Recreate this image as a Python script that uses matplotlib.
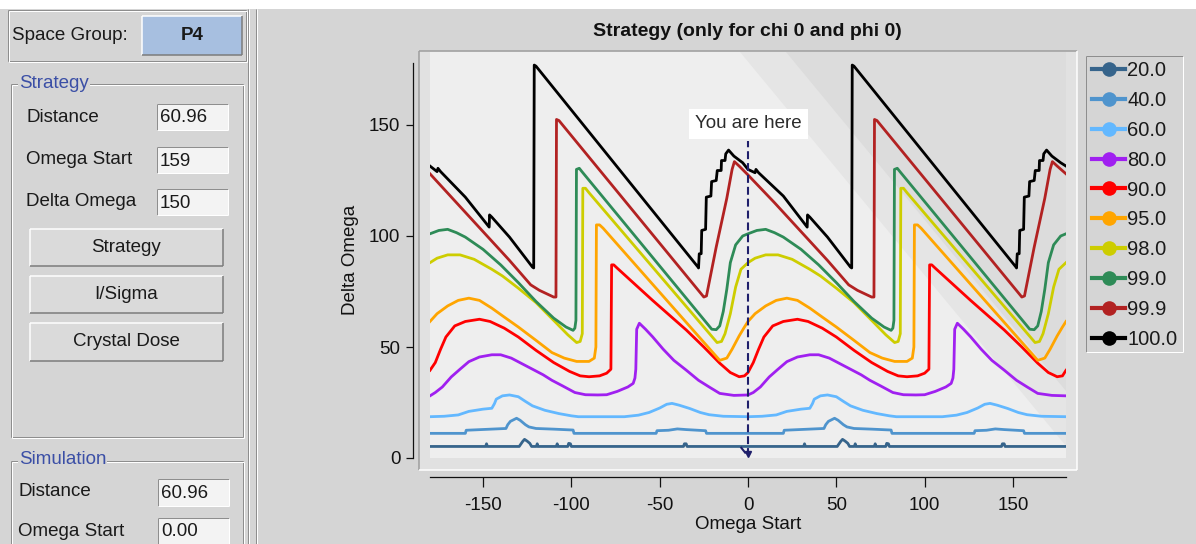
import matplotlib
matplotlib.use('Agg')
import matplotlib.pyplot as plt
from matplotlib.patches import Rectangle, Polygon
from matplotlib.lines import Line2D

plt.rcParams['font.family'] = ['Liberation Sans', 'DejaVu Sans']

# ---------------- data (Omega Start, Delta Omega) ----------------
levels = ['20.0', '40.0', '60.0', '80.0', '90.0', '95.0', '98.0', '99.0', '99.9', '100.0']
colors = ['#36648b', '#4f94cd', '#63b8ff', '#a020f0', '#ff0000', '#ffa500',
          '#cdcd00', '#2e8b57', '#b22222', '#000000']

pts_200 = [(-180, 5.2), (-148.5, 5.2), (-148, 6.4), (-147.5, 5.2), (-129.5, 5.2), (-127.5, 7.5),
           (-126.5, 8.4), (-125, 7.6), (-123.5, 6.6), (-122.5, 5.2), (-119.8, 5.2), (-119.3, 6.4),
           (-118.8, 5.2), (-108.5, 5.2), (-108, 6.4), (-107.5, 5.2), (-102, 5.2), (-101.5, 6.6),
           (-100.5, 6.4), (-100, 5.2), (-36.5, 5.2), (-36, 6.4), (-35, 6.4), (-34.5, 5.2), (0, 5.2),
           (31.5, 5.2), (32, 6.4), (32.5, 5.2), (50.5, 5.2), (52.5, 7.5), (53.5, 8.4), (55, 7.6),
           (56.5, 6.6), (57.5, 5.2), (60.2, 5.2), (60.7, 6.4), (61.2, 5.2), (71.5, 5.2), (72, 6.4),
           (72.5, 5.2), (78, 5.2), (78.5, 6.6), (79.5, 6.4), (80, 5.2), (143.5, 5.2), (144, 6.4),
           (145, 6.4), (145.5, 5.2), (180, 5.2)]

pts_400 = [(-180, 11.1), (-160, 11.1), (-159.5, 12.5), (-137, 13.3), (-136, 15), (-134.5, 16.5),
           (-131, 17.9), (-129, 17), (-126, 15), (-124, 14), (-120, 13.3), (-110, 13), (-99, 12.6),
           (-98.5, 11.1), (-52, 11.1), (-51.5, 12.3), (-45, 12.5), (-40, 13.1), (-35, 12.8),
           (-24, 12.3), (-23.5, 11.1), (0, 11.1),
           (20, 11.1), (20.5, 12.5), (43, 13.3), (44, 15), (45.5, 16.5), (49, 17.9), (51, 17),
           (54, 15), (56, 14), (60, 13.3), (70, 13), (81, 12.6), (81.5, 11.1), (128, 11.1),
           (128.5, 12.3), (135, 12.5), (140, 13.1), (145, 12.8), (156, 12.3), (156.5, 11.1), (180, 11.1)]

pts_600 = [(-180, 18.6), (-172, 18.8), (-164, 19.4), (-158, 21), (-150, 22), (-145, 22.4),
           (-143.5, 24.5), (-142.5, 26.5), (-139, 28), (-135, 28.4), (-130, 27.6), (-126, 25.5),
           (-122, 23.5), (-115, 21.5), (-107, 20), (-100, 19), (-96, 18.6), (-70, 18.6), (-62, 19.3),
           (-56, 20.5), (-50, 22.5), (-46, 24.2), (-43, 24.6), (-39, 23.8), (-33, 22.3), (-27, 20.5),
           (-22, 19.5), (-14, 18.8), (0, 18.6),
           (8, 18.8), (16, 19.4), (22, 21), (30, 22), (35, 22.4), (36.5, 24.5), (37.5, 26.5), (41, 28),
           (45, 28.4), (50, 27.6), (54, 25.5), (58, 23.5), (65, 21.5), (73, 20), (80, 19), (84, 18.6),
           (110, 18.6), (118, 19.3), (124, 20.5), (130, 22.5), (134, 24.2), (137, 24.6), (141, 23.8),
           (147, 22.3), (153, 20.5), (158, 19.5), (166, 18.8), (180, 18.6)]

pts_800 = [(-180, 28), (-177, 29.5), (-173, 32), (-168, 36.5), (-163, 40), (-158, 43.4), (-152, 45.5),
           (-145, 46.5), (-140, 46.5), (-134, 45), (-128, 42.5), (-122, 40), (-116, 37.5), (-111, 35),
           (-105, 32.5), (-98, 29.5), (-92, 28.5), (-85, 28.4), (-80, 28.5), (-74, 30), (-68, 32),
           (-65, 33.6), (-64, 36), (-63.5, 40), (-63, 58), (-61.5, 60.7), (-58, 58), (-54, 54.6),
           (-48, 49), (-42, 44), (-35, 39.6), (-28, 35), (-22, 32), (-16, 29.1), (-8, 28.2), (0, 28.4),
           (3, 29.5), (7, 32), (12, 36.5), (17, 40), (22, 43.4), (28, 45.5), (35, 46.5), (40, 46.5),
           (46, 45), (52, 42.5), (58, 40), (64, 37.5), (69, 35), (75, 32.5), (82, 29.5), (88, 28.5),
           (95, 28.4), (100, 28.5), (106, 30), (112, 32), (115, 33.6), (116, 36), (116.5, 40), (117, 58),
           (118.5, 60.7), (122, 58), (126, 54.6), (132, 49), (138, 44), (145, 39.6), (152, 35),
           (158, 32), (164, 29.1), (172, 28.2), (180, 28)]

pts_900 = [(-180, 39.5), (-177, 43), (-174, 49), (-171, 54.5), (-166, 59.5), (-160, 61.5), (-152, 62.5),
           (-146, 61.5), (-138, 58.5), (-130, 54.5), (-120, 48.5), (-110, 43), (-101, 39), (-95, 37),
           (-90, 36.6), (-84, 37), (-80, 38.2), (-77.6, 40), (-77.2, 87), (-76, 87), (-74, 85.5),
           (-54, 71), (-35, 57.7), (-25, 50), (-16, 42.7), (-10, 38.5), (-5, 36.6), (-2, 37), (0, 38.5),
           (3, 43), (6, 49), (9, 54.5), (14, 59.5), (20, 61.5), (28, 62.5), (34, 61.5), (42, 58.5),
           (50, 54.5), (60, 48.5), (70, 43), (79, 39), (85, 37), (90, 36.6), (96, 37), (100, 38.2),
           (102.4, 40), (102.8, 87), (104, 87), (106, 85.5), (126, 71), (145, 57.7), (155, 50),
           (164, 42.7), (170, 38.5), (175, 36.6), (178, 37), (180, 39.5)]

pts_950 = [(-180, 61.5), (-176, 65), (-170, 68.5), (-164, 71), (-158, 72), (-152, 71), (-145, 67.5),
           (-138, 63.5), (-130, 59), (-120, 53), (-111, 47.5), (-104, 45), (-97, 43.5), (-90, 43.5),
           (-87, 45), (-86.1, 50), (-85.8, 105), (-84, 105), (-82, 103.5), (-16, 44), (-12, 45),
           (-9, 49), (-5, 55), (-2, 59), (0, 61.5),
           (4, 65), (10, 68.5), (16, 71), (22, 72), (28, 71), (35, 67.5), (42, 63.5), (50, 59), (60, 53),
           (69, 47.5), (76, 45), (83, 43.5), (90, 43.5), (93, 45), (93.9, 50), (94.2, 105), (96, 105),
           (98, 103.5), (164, 44), (168, 45), (171, 49), (175, 55), (178, 59), (180, 61.5)]

pts_980 = [(-180, 88), (-176, 90), (-170, 91.5), (-163, 91.5), (-155, 89.5), (-145, 85), (-139, 82),
           (-130, 76.5), (-120, 70), (-110, 62), (-102, 55.5), (-97, 52), (-95, 52.5), (-93.8, 56),
           (-93.5, 121.5), (-92, 121.5), (-90, 119.5), (-17.5, 52), (-15, 52.5), (-13, 56), (-10, 65),
           (-7, 77), (-4, 85), (0, 88),
           (4, 90), (10, 91.5), (17, 91.5), (25, 89.5), (35, 85), (41, 82), (50, 76.5), (60, 70),
           (70, 62), (78, 55.5), (83, 52), (85, 52.5), (86.2, 56), (86.5, 121.5), (88, 121.5),
           (90, 119.5), (162.5, 52), (165, 52.5), (167, 56), (170, 65), (173, 77), (176, 85), (180, 88)]

pts_990 = [(-180, 101), (-175, 102.5), (-170, 103), (-165, 101.5), (-160, 99.5), (-150, 94), (-140, 87),
           (-130, 79), (-120, 70.5), (-110, 63), (-103, 59), (-99, 57.5), (-98, 58.5), (-97.4, 62),
           (-97.1, 130), (-95.5, 130.5), (-94, 129), (-20.5, 58), (-18, 57.8), (-16, 59.5), (-14, 66),
           (-12, 76), (-10, 88), (-7, 96), (-3, 100), (0, 101),
           (5, 102.5), (10, 103), (15, 101.5), (20, 99.5), (30, 94), (40, 87), (50, 79), (60, 70.5),
           (70, 63), (77, 59), (81, 57.5), (82, 58.5), (82.6, 62), (82.9, 130), (84.5, 130.5), (86, 129),
           (159.5, 58), (162, 57.8), (164, 59.5), (166, 66), (168, 76), (170, 88), (173, 96), (177, 100),
           (180, 101)]

pts_999 = [(-180, 128), (-165, 115), (-150, 102), (-135, 89), (-123, 78), (-118, 75.5), (-110, 72.5),
           (-108.7, 72.5), (-108.4, 152.5), (-107, 152), (-25, 72.5), (-23.5, 73), (-18, 95), (-12, 117),
           (-9, 130), (-7.7, 133.5), (-5, 131.5), (0, 127.5),
           (15, 115), (30, 102), (45, 89), (57, 78), (62, 75.5), (70, 72.5), (71.3, 72.5), (71.6, 152.5),
           (73, 152), (155, 72.5), (156.5, 73), (162, 95), (168, 117), (171, 130), (172.3, 133.5),
           (175, 131.5), (180, 128)]

pts_100 = [(-180, 131.5), (-176, 129), (-175.5, 130.5), (-174, 129), (-160, 117.5), (-146.5, 104),
           (-146.3, 109.5), (-145, 108.5), (-135, 99.5), (-122, 86), (-121.3, 85.6), (-121, 177),
           (-120, 176.5), (-28.3, 86), (-28, 85.6), (-27.6, 92), (-26.5, 92), (-26.2, 102.5), (-24, 103),
           (-23.6, 117.5), (-21, 118), (-20.6, 124.5), (-18, 125), (-17.4, 129.5), (-15.2, 129.5),
           (-15, 134), (-13, 134), (-12.6, 137), (-11, 138.7), (-8, 136), (-3, 133), (0, 130),
           (4, 128.5), (4.5, 130), (6, 128.5), (20, 118), (33.5, 104), (33.7, 109.5), (35, 108.5),
           (45, 99.5), (58, 86), (58.7, 85.6), (59, 177), (60, 176.5), (151.7, 86), (152, 85.6),
           (152.4, 92), (153.5, 92), (153.8, 102.5), (156, 103), (156.4, 117.5), (159, 118),
           (159.4, 124.5), (162, 125), (162.6, 129.5), (164.8, 129.5), (165, 134), (167, 134),
           (167.4, 137), (169, 138.7), (172, 136), (177, 133), (180, 131.5)]

series = [pts_200, pts_400, pts_600, pts_800, pts_900, pts_950, pts_980, pts_990, pts_999, pts_100]

x_ticks = [-150, -100, -50, 0, 50, 100, 150]
y_ticks = [0, 50, 100, 150]
marker_omega = 0  # "You are here"

# ---------------- figure ----------------
W, H = 1196, 544
BG = '#d5d5d5'
DARK = '#8e8e8e'
fig = plt.figure(figsize=(W / 100, H / 100), dpi=100, facecolor=BG)

bg = fig.add_axes([0, 0, 1, 1], zorder=0)
bg.set_xlim(0, W)
bg.set_ylim(H, 0)
bg.axis('off')

PX = 0.72  # points per pixel


def rect(x0, y0, x1, y1, fc):
    bg.add_patch(Rectangle((x0, y0), x1 - x0, y1 - y0, facecolor=fc, edgecolor='none'))


def seg(xs, ys, c, w=1):
    bg.plot(xs, ys, color=c, lw=w * PX, solid_capstyle='butt')


def sunken(x0, y0, x1, y1, fill=None):
    if fill:
        rect(x0, y0, x1, y1, fill)
    seg([x0, x1], [y0, y0], DARK)
    seg([x0, x0], [y0, y1], DARK)
    seg([x0, x1], [y1, y1], 'white')
    seg([x1, x1], [y0, y1], 'white')


def raised(x0, y0, x1, y1, fill):
    rect(x0, y0, x1, y1, fill)
    seg([x0, x1], [y0, y0], 'white', 1.5)
    seg([x0, x0], [y0, y1], 'white', 1.5)
    seg([x0, x1], [y1, y1], '#7a7a7a', 1.5)
    seg([x1, x1], [y0, y1], '#7a7a7a', 1.5)


def groove(x0, y0, x1, y1):
    for off, c in ((0, DARK), (1, 'white')):
        seg([x0 + off, x1 + off], [y0 + off, y0 + off], c)
        seg([x0 + off, x0 + off], [y0 + off, y1 + off], c)
        seg([x0 + off, x1 + off], [y1 + off, y1 + off], c)
        seg([x1 + off, x1 + off], [y0 + off, y1 + off], c)


def label(x, y, s, **kw):
    kw.setdefault('fontsize', 13.5)
    kw.setdefault('color', '#1a1a1a')
    bg.text(x, y, s, va='center', ha=kw.pop('ha', 'left'), **kw)


# top white strip
rect(0, 0, W, 9, 'white')

# left panel
groove(8, 10, 246, 61)
label(12, 36, 'Space Group:')
raised(142, 16, 242, 55, '#a7bfe0')
label(192, 36, 'P4', ha='center', fontweight='bold')

groove(11, 84, 243, 437)
label(19, 84, 'Strategy', color='#3b4fa6',
      bbox=dict(boxstyle='square,pad=0.05', fc=BG, ec='none'))
for yy, name, val in ((117, 'Distance', '60.96'), (160, 'Omega Start', '159'),
                      (202, 'Delta Omega', '150')):
    label(26, yy, name)
    sunken(157, yy - 13, 228, yy + 13, '#f3f3f3')
    label(160, yy + 1, val)
for (y0, y1), name in (((229, 266), 'Strategy'), ((276, 313), 'I/Sigma'),
                       ((323, 361), 'Crystal Dose')):
    raised(30, y0, 223, y1, '#dadada')
    label(126, (y0 + y1) / 2, name, ha='center')

groove(11, 461, 243, 560)
label(19, 459, 'Simulation', color='#3b4fa6',
      bbox=dict(boxstyle='square,pad=0.05', fc=BG, ec='none'))
for yy, name, val in ((492, 'Distance', '60.96'), (531, 'Omega Start', '0.00')):
    label(18, yy, name)
    sunken(158, yy - 13, 229, yy + 14, '#f3f3f3')
    label(161, yy + 1, val)

# pane separator
seg([248, 248], [9, H], DARK)
seg([249, 249], [9, H], 'white')
seg([256, 256], [9, H], DARK)
seg([257, 257], [9, H], 'white')

# plot frame (padding strips)
rect(419, 51, 1077, 470, '#e1e1e1')
seg([419, 1077], [51, 51], '#9c9c9c', 1.5)
seg([419, 419], [51, 470], '#9c9c9c', 1.5)
seg([419, 1077], [470, 470], 'white', 1.5)
seg([1077, 1077], [51, 470], 'white', 1.5)

# legend frame
sunken(1086, 56, 1183, 352)

# ---------------- data axes ----------------
PXY = 2.22
ax = fig.add_axes([430 / W, (H - 458) / H, 636 / W, 406 / H], zorder=2)
ax.set_facecolor('#eeeeee')
ax.set_xlim(-180, 180)
ax.set_ylim(0, 406 / PXY)

ax.add_patch(Polygon([(0.487, 1), (1, 1), (1, 0.03)], closed=True, transform=ax.transAxes,
                     fc='#e5e5e5', ec='none', zorder=0.5))
ax.add_patch(Polygon([(0.56, 1), (1, 1), (1, 0.165)], closed=True, transform=ax.transAxes,
                     fc='#dcdcdc', ec='none', zorder=0.6))

for pts, c in zip(series, colors):
    xs = [p[0] for p in pts]
    ys = [p[1] for p in pts]
    ax.plot(xs, ys, color=c, lw=2.0, zorder=3)

# "You are here" marker
NAVY = '#1f1f6b'
ax.plot([marker_omega, marker_omega], [1.0, 142.8], color=NAVY, lw=1.5,
        linestyle=(0, (3.8, 1.9)), zorder=4)
ax.plot([marker_omega], [1.6], marker='v', ms=5, color=NAVY, zorder=4)
ax.plot([-3.8, -1.6], [4.6, 2.4], color=NAVY, lw=1.5, zorder=4)
ax.text(marker_omega, (458 - 124) / PXY, 'You are here', ha='center', va='center',
        fontsize=13.5, color='#2b2b2b', zorder=5,
        bbox=dict(boxstyle='square,pad=0.33', fc='white', ec='none'))

for s in ('top', 'right'):
    ax.spines[s].set_visible(False)
ax.spines['left'].set_position(('outward', 17 * PX))
ax.spines['bottom'].set_position(('outward', 19 * PX))
ax.spines['left'].set_bounds(0, 178)
ax.spines['bottom'].set_bounds(-180, 180)
for s in ('left', 'bottom'):
    ax.spines[s].set_linewidth(0.9)
    ax.spines[s].set_color('#111111')
ax.set_xticks(x_ticks)
ax.set_yticks(y_ticks)
ax.set_xticklabels([str(t) for t in x_ticks])
ax.set_yticklabels([str(t) for t in y_ticks])
ax.tick_params(axis='x', direction='out', length=7.2, width=0.9, pad=7.5, labelsize=13.5,
               colors='#111111')
ax.tick_params(axis='y', direction='out', length=5, width=0.9, pad=4, labelsize=13.5,
               colors='#111111')
ax.set_xlabel('Omega Start', fontsize=13.5, color='#111111')
ax.xaxis.set_label_coords(0.5, (458 - 516) / 406)
ax.set_ylabel('Delta Omega', fontsize=13.5, color='#111111')
ax.yaxis.set_label_coords((359 - 430) / 636, (458 - 260) / 406)

fig.text(747 / W, 1 - 31 / H, 'Strategy (only for chi 0 and phi 0)', ha='center', va='center',
         fontsize=14, fontweight='bold', color='#111111')

handles = [Line2D([], [], color=c, lw=3, marker='o', ms=10.5, markeredgewidth=0) for c in colors]
ax.legend(handles, levels, loc='upper left', bbox_to_anchor=(1087 / W, 1 - 56 / H),
          bbox_transform=fig.transFigure, frameon=False, fontsize=14.5, handlelength=1.64,
          handletextpad=0.1, labelspacing=0.54, borderpad=0.25, borderaxespad=0, numpoints=1,
          labelcolor='#1a1a1a')

fig.savefig('out.png', dpi=100, facecolor=BG)
